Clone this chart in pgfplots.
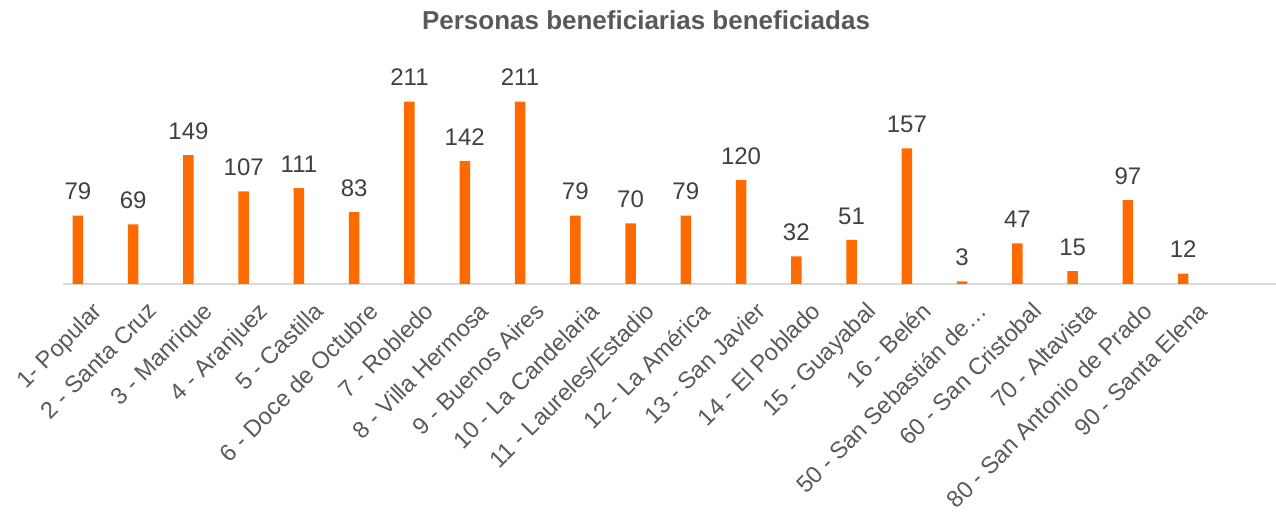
\documentclass[border=0pt]{standalone}
\usepackage{fontspec}
\setmainfont{Liberation Sans}
\usepackage{pgfplots}
\pgfplotsset{compat=1.18}

\definecolor{barorange}{HTML}{FF6A00}
\definecolor{titlegray}{HTML}{595959}
\definecolor{valgray}{HTML}{404040}
\definecolor{axisgray}{HTML}{D9D9D9}

\begin{document}
\begin{tikzpicture}
\begin{axis}[
    at={(0,0)}, anchor=south west,
    scale only axis,
    width=606.5pt, height=112.4pt,
    xmin=-0.27, xmax=21.68,
    ymin=0, ymax=260,
    ybar, bar width=5.25pt,
    hide y axis,
    axis x line*=bottom,
    x axis line style={draw=axisgray, line width=1pt},
    major tick length=0pt,
    xtick=data,
    xticklabels={1- Popular, 2 - Santa Cruz, 3 - Manrique, 4 - Aranjuez,
        5 - Castilla, 6 - Doce de Octubre, 7 - Robledo, 8 - Villa Hermosa,
        9 - Buenos Aires, 10 - La Candelaria, 11 - Laureles/Estadio,
        12 - La América, 13 - San Javier, 14 - El Poblado, 15 - Guayabal,
        16 - Belén, 50 - San Sebastián de…, 60 - San Cristobal,
        70 - Altavista, 80 - San Antonio de Prado, 90 - Santa Elena},
    xticklabel style={rotate=45, anchor=north east, inner sep=1pt,
        xshift=0pt, yshift=-9.5pt,
        font=\fontsize{11.8}{14}\selectfont, text=titlegray},
    /pgf/number format/assume math mode=true,
    nodes near coords,
    every node near coord/.append style={anchor=base, yshift=7.9pt,
        font=\fontsize{12}{14}\selectfont, text=valgray},
]
\addplot[fill=barorange, draw=none] coordinates {
    (0,79) (1,69) (2,149) (3,107) (4,111) (5,83) (6,211) (7,142)
    (8,211) (9,79) (10,70) (11,79) (12,120) (13,32) (14,51) (15,157)
    (16,3) (17,47) (18,15) (19,97) (20,12)
};
\end{axis}
\node[anchor=base, font=\bfseries\fontsize{13}{15}\selectfont, text=titlegray]
    at (291.5pt,127.3pt) {Personas beneficiarias beneficiadas};
\pgfresetboundingbox
\path (-31.5pt,-114.5pt) rectangle (606.5pt,142pt);
\end{tikzpicture}
\end{document}
